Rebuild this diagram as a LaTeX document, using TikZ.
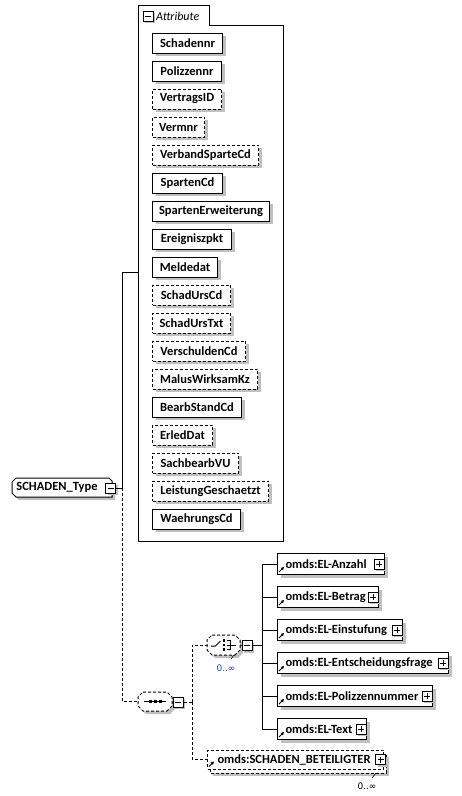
\documentclass[tikz,border=0pt]{standalone}
\usepackage{fontspec}
\setmainfont{Carlito}
\newfontfamily\symfont{DejaVu Sans}
\usetikzlibrary{shadows,arrows.meta}
\definecolor{shadowgray}{RGB}{192,192,192}
\definecolor{multblue}{RGB}{40,70,160}
\tikzset{
  shd/.style={general shadow={fill=shadowgray, shadow xshift=3pt, shadow yshift=-3pt}},
  dsh/.style={dash pattern=on 3pt off 2pt},
  bfont/.style={font=\fontsize{12.5}{14}\selectfont\bfseries},
  attr/.style={draw, fill=white, line width=1pt, minimum height=20pt, inner sep=0pt,
    anchor=west, minimum width=#1, shd, bfont},
  elembase/.style={draw, fill=white, line width=1pt, minimum height=21pt, inner xsep=0pt,
    inner ysep=0pt, anchor=west, text width=#1, align=left, bfont},
  elem/.style={elembase=#1, shd},
  pmbox/.style={draw, fill=white, line width=1pt, minimum size=10pt, inner sep=0pt,
    general shadow={fill=shadowgray, shadow xshift=2pt, shadow yshift=-2pt}},
  minusbox/.style={pmbox, path picture={\draw[line width=1pt]
    ([xshift=2pt]path picture bounding box.west) -- ([xshift=-2pt]path picture bounding box.east);}},
  plusbox/.style={pmbox, path picture={\draw[line width=1pt]
    ([xshift=2pt]path picture bounding box.west) -- ([xshift=-2pt]path picture bounding box.east);
    \draw[line width=1pt]
    ([yshift=-2pt]path picture bounding box.north) -- ([yshift=2pt]path picture bounding box.south);}},
  elarrow/.style={line width=0.8pt, -{Triangle[length=3pt,width=3pt]}},
  conn/.style={line width=1pt},
  hub/.style={inner sep=0pt, draw=none},
  mult/.style={font=\symfont\fontsize{9}{10}\selectfont, inner sep=0pt},
}
\begin{document}
\begin{tikzpicture}[x=1pt,y=-1pt]
\useasboundingbox[fill=white] (0,0) rectangle (462,796);

% ---- Attribute group box ----
\draw[line width=1pt] (138,541) -- (138,5) -- (209,5) -- (209,25) -- (283,25) -- (283,541) -- cycle;
\coordinate (attrbox) at (138,272);
\node[minusbox] (am) at (148,16) {};
\node[anchor=west, inner sep=0pt, font=\fontsize{12}{14}\selectfont\itshape] (atxt) at (156,16) {Attribute};

\node[attr=70pt] (a1) at (152,43) {Schadennr};
\node[attr=69pt] (a2) at (152,71) {Polizzennr};
\node[attr=69pt,dsh] (a3) at (152,99) {VertragsID};
\node[attr=52pt,dsh] (a4) at (152,127) {Vermnr};
\node[attr=106pt,dsh] (a5) at (152,155) {VerbandSparteCd};
\node[attr=70pt] (a6) at (152,183) {SpartenCd};
\node[attr=117pt] (a7) at (152,211) {SpartenErweiterung};
\node[attr=79pt] (a8) at (152,239) {Ereigniszpkt};
\node[attr=65pt] (a9) at (152,267) {Meldedat};
\node[attr=78pt,dsh] (a10) at (152,295) {SchadUrsCd};
\node[attr=78pt,dsh] (a11) at (152,323) {SchadUrsTxt};
\node[attr=93pt,dsh] (a12) at (152,351) {VerschuldenCd};
\node[attr=105pt,dsh] (a13) at (152,379) {MalusWirksamKz};
\node[attr=89pt] (a14) at (152,407) {BearbStandCd};
\node[attr=60pt,dsh] (a15) at (152,435) {ErledDat};
\node[attr=86pt,dsh] (a16) at (152,463) {SachbearbVU};
\node[attr=116pt,dsh] (a17) at (152,491) {LeistungGeschaetzt};
\node[attr=88pt] (a18) at (152,519) {WaehrungsCd};

% ---- SCHADEN_Type ----
\draw[line width=1pt, fill=white, shd] (16,478) -- (109,478) -- (112,481) -- (112,497) -- (16,497) -- (12,493) -- (12,482) -- cycle;
\node[hub, bfont] (st) at (57,487.5) {SCHADEN\_Type};
\node[minusbox] (stm) at (110.5,488) {};

% ---- sequence ----
\draw[line width=1pt, fill=white, dsh, shd] (143,692) -- (167,692) -- (172,697) -- (172,706) -- (167,711) -- (143,711) -- (138,706) -- (138,697) -- cycle;
\node[hub, minimum width=34pt, minimum height=19pt] (seq) at (155,701.5) {};
\draw[line width=1pt] (144,701.5) -- (166,701.5);
\foreach \dx in {150,155,160} \fill (\dx-1.5,700) rectangle (\dx+1.5,703);
\node[minusbox] (seqm) at (178,702) {};

% ---- choice ----
\draw[line width=1pt, fill=white, dsh, shd] (212,635) -- (235,635) -- (240,640) -- (240,650) -- (235,655) -- (212,655) -- (207,650) -- (207,640) -- cycle;
\node[hub, minimum width=33pt, minimum height=20pt] (cho) at (223.5,645) {};
\draw[line width=1pt] (211,646) -- (215.5,646) -- (220.5,641);
\foreach \dy in {640.5,645,649.5} \fill (222.8,\dy-1.3) rectangle (225.4,\dy+1.3);
\draw[line width=1pt] (226.5,640.5) -- (230.5,640.5) -- (230.5,649.5) -- (226.5,649.5);
\draw[line width=1pt] (226.5,645) -- (236,645);
\node[minusbox] (chom) at (247,645.5) {};
\node[mult, text=multblue] (m1) at (226,668) {0..∞};
\draw[line width=0.6pt] (234,655) -- (231,659);

% ---- choice children ----
\node[elem=107pt] (c1) at (277,564) {\hspace*{8pt}omds:EL-Anzahl};
\node[elem=101pt] (c2) at (277,597) {\hspace*{8pt}omds:EL-Betrag};
\node[elem=125pt] (c3) at (277,630) {\hspace*{8pt}omds:EL-Einstufung};
\node[elem=171pt] (c4) at (277,663) {\hspace*{8pt}omds:EL-Entscheidungsfrage};
\node[elem=155pt] (c5) at (277,696) {\hspace*{8pt}omds:EL-Polizzennummer};
\node[elem=89pt]  (c6) at (277,729) {\hspace*{8pt}omds:EL-Text};
\foreach \i in {1,...,6} {
  \node[plusbox, anchor=east] (p\i) at ([xshift=-0.5pt]c\i.east) {};
  \draw[elarrow] ([shift={(2pt,3pt)}]c\i.south west) -- ++(5,-5);
}

% ---- SCHADEN_BETEILIGTER ----
\draw[line width=1pt, fill=white, dsh, shd] (210,754) rectangle (386,773);
\node[elembase=176pt, dsh, minimum height=19pt] (bt) at (207,759.5) {\hspace*{10pt}omds:SCHADEN\_BETEILIGTER};
\node[plusbox] (pb) at (380.5,759.5) {};
\draw[elarrow] ([shift={(2pt,3pt)}]bt.south west) -- ++(5,-5);
\node[mult] (m2) at (367,786) {0..∞};
\draw[line width=0.6pt] (376,773) -- (372,778);

% ---- connectors ----
\coordinate (j1) at (122.5,488);
\coordinate (seqj) at (192,702);
\coordinate (choj) at (262,645.5);
\draw[conn] (stm.east) -- (j1);
\draw[conn] (j1) |- (attrbox);
\draw[conn, dsh] (j1) |- (seq.west);
\draw[conn, dsh] (seqm.east) -- (seqj);
\draw[conn, dsh] (seqj) |- (cho.west);
\draw[conn, dsh] (seqj) |- (bt.west);
\draw[conn] (cho.east) -- (chom.west);
\draw[conn] (chom.east) -- (choj);
\foreach \i in {1,...,6} \draw[conn] (choj) |- (c\i.west);
\end{tikzpicture}
\end{document}
